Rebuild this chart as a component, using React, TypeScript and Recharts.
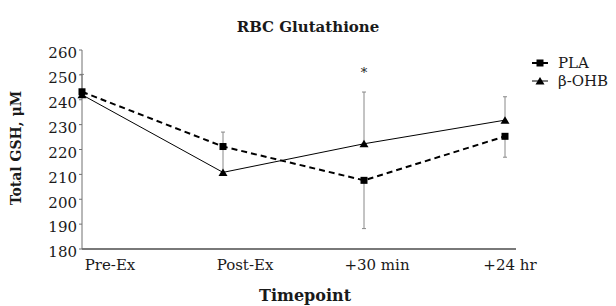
import { LineChart, Line, XAxis, YAxis, ErrorBar, ReferenceDot, ReferenceLine } from 'recharts';

const timepoints = ['Pre-Ex', 'Post-Ex', '+30 min', '+24 hr'];
const plaValues = [243.2, 221.2, 207.6, 225.3];
// [below, above] error lengths, as drawn in the figure
const plaErrors = [[0, 7], [0, 5.8], [19.4, 0], [8.4, 0]];
const ohbValues = [242.0, 210.8, 222.3, 231.8];
const ohbErrors = [[0, 0], [0, 10.4], [0, 20.8], [0, 9.4]];
const yTicks = [180, 190, 200, 210, 220, 230, 240, 250, 260];
const significance = [{ time: '+30 min', y: 251, mark: '*' }];

const data = timepoints.map((time, i) => ({
  time,
  pla: plaValues[i],
  plaErr: plaErrors[i],
  ohb: ohbValues[i],
  ohbErr: ohbErrors[i],
}));

const FONT = '"DejaVu Serif", serif';
const INK = '#1a1a1a';
const AXIS = '#707070';
// the category labels in the original sit a bit right of their points
const LABEL_SHIFT = [28, 22, 13, 5];

function SquareDot(props: any) {
  const { cx, cy } = props;
  if (cx == null || cy == null) return null;
  return <rect x={cx - 3.5} y={cy - 3.5} width={7} height={7} fill="#000" />;
}

function TriangleDot(props: any) {
  const { cx, cy } = props;
  if (cx == null || cy == null) return null;
  return <path d={`M${cx - 4.5},${cy + 3.5} L${cx + 4.5},${cy + 3.5} L${cx},${cy - 4} Z`} fill="#000" />;
}

function TimeTick(props: any) {
  const { x, y, payload, index } = props;
  return (
    <text
      x={x + (LABEL_SHIFT[index] ?? 0)}
      y={y + 19}
      textAnchor="middle"
      style={{ fontFamily: FONT, fontSize: 15, fill: INK }}
    >
      {payload.value}
    </text>
  );
}

function ChartLegend() {
  const items = [
    { label: 'PLA', dashed: true, shape: 'square' },
    { label: 'β-OHB', dashed: false, shape: 'triangle' },
  ];
  return (
    <div style={{ position: 'absolute', left: 532, top: 54, fontFamily: FONT, fontSize: 15, color: INK }}>
      {items.map((it) => (
        <div key={it.label} style={{ display: 'flex', alignItems: 'center', height: 18 }}>
          <svg width={18} height={10} style={{ marginRight: 8 }}>
            <line x1={0} y1={5} x2={16} y2={5} stroke="#000" strokeWidth={it.dashed ? 2 : 1} />
            {it.shape === 'square' ? (
              <rect x={4.5} y={1.5} width={7} height={7} fill="#000" />
            ) : (
              <path d="M3.5,8.5 L12.5,8.5 L8,1 Z" fill="#000" />
            )}
          </svg>
          <span>{it.label}</span>
        </div>
      ))}
    </div>
  );
}

export default function App() {
  const bold = { fontFamily: FONT, fontWeight: 'bold' as const, color: INK };
  return (
    <div style={{ position: 'absolute', left: 0, top: 0, width: 616, height: 306, background: '#fff' }}>
      <LineChart width={616} height={306} data={data} margin={{ top: 50, right: 100, left: 0, bottom: 0 }}>
        <XAxis
          dataKey="time"
          height={57}
          padding={{ left: 0, right: 11 }}
          axisLine={{ stroke: AXIS, strokeWidth: 1.5 }}
          tickLine={false}
          tickSize={0}
          tick={<TimeTick />}
          interval={0}
        />
        <YAxis
          width={82}
          domain={[180, 260]}
          ticks={yTicks}
          interval={0}
          tickSize={3}
          tickMargin={2}
          tickLine={{ stroke: AXIS }}
          axisLine={{ stroke: AXIS }}
          tick={{ fontFamily: FONT, fontSize: 15, fill: INK, dy: 3 }}
        />
        <ReferenceLine y={180} stroke={AXIS} strokeWidth={1.5} />
        <Line
          dataKey="pla"
          stroke="#000"
          strokeWidth={2}
          strokeDasharray="6 4"
          dot={<SquareDot />}
          activeDot={false}
          isAnimationActive={false}
        >
          <ErrorBar dataKey="plaErr" stroke="#888" strokeWidth={1} width={2} />
        </Line>
        <Line
          dataKey="ohb"
          stroke="#000"
          strokeWidth={1}
          dot={<TriangleDot />}
          activeDot={false}
          isAnimationActive={false}
        >
          <ErrorBar dataKey="ohbErr" stroke="#888" strokeWidth={1} width={2} />
        </Line>
        {significance.map((s) => (
          <ReferenceDot
            key={s.time}
            x={s.time}
            y={s.y}
            r={0}
            fill={INK}
            stroke="none"
            label={{ value: s.mark, position: 'center', fontFamily: FONT, fontSize: 13, fill: INK }}
          />
        ))}
      </LineChart>
      <div style={{ ...bold, position: 'absolute', left: 0, width: 616, top: 18, textAlign: 'center', fontSize: 15 }}>
        RBC Glutathione
      </div>
      <div style={{ ...bold, position: 'absolute', left: -3, width: 616, top: 286, textAlign: 'center', fontSize: 16 }}>
        Timepoint
      </div>
      <div
        style={{
          ...bold,
          position: 'absolute',
          left: 16 - 100,
          top: 148 - 9,
          width: 200,
          height: 18,
          lineHeight: '18px',
          textAlign: 'center',
          fontSize: 14,
          transform: 'rotate(-90deg)',
        }}
      >
        Total GSH, μM
      </div>
      <ChartLegend />
    </div>
  );
}
